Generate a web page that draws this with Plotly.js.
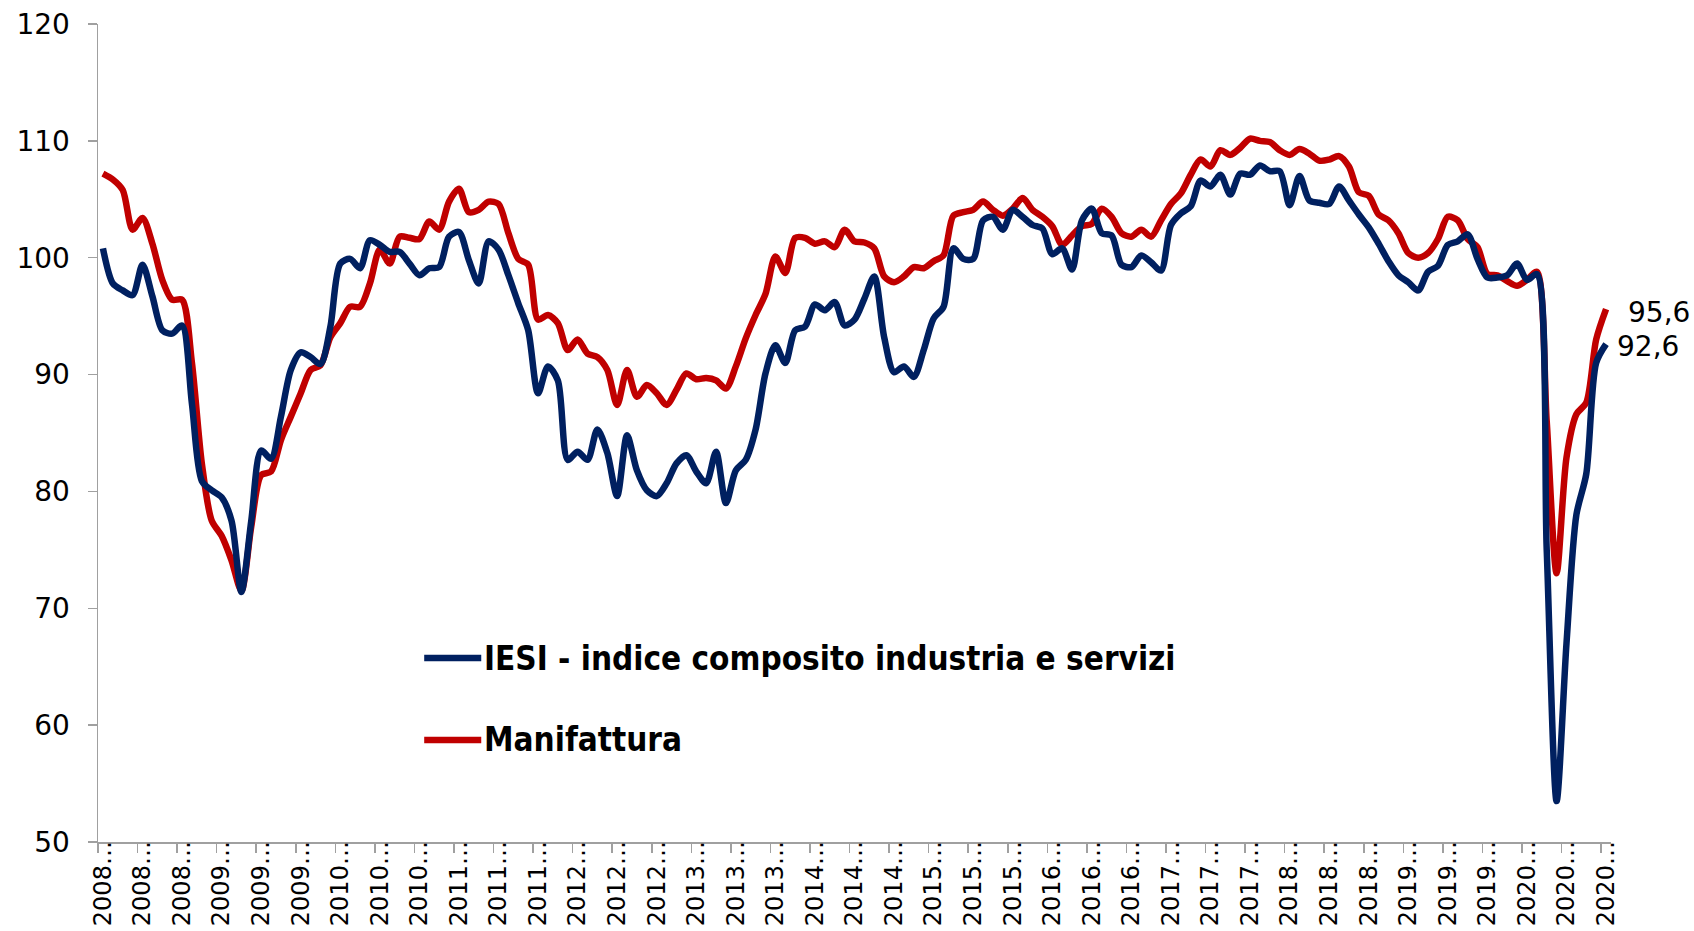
<!DOCTYPE html>
<html>
<head>
<meta charset="utf-8">
<script src="https://cdn.plot.ly/plotly-3.0.1.min.js"></script>
<style>
html,body{margin:0;padding:0;background:#fff;}
#chart{width:1694px;height:931px;}
</style>
</head>
<body>
<div id="chart"></div>
<script>
// Monthly series, one value per month (153 months)
const iesi = [
100.8,97.8,97.2,96.8,99.4,96.7,93.8,93.5,94.2,87.5,80.9,80.1,79.5,77.5,71.4,77.5,83.5,82.8,86.4,90.4,
91.9,91.5,90.9,94.1,99.5,99.9,99.1,101.5,101.1,100.5,100.5,99.5,98.5,99.1,99.2,101.8,102.2,99.8,97.8,101.4,
100.7,98.5,96.1,93.8,88.4,90.7,89.5,82.7,83.4,82.7,85.3,83.3,79.6,84.8,81.8,80.1,79.6,80.7,82.4,83.1,
81.7,80.7,83.4,79.0,81.8,82.7,85.3,90.1,92.5,91.0,93.8,94.1,96.0,95.5,96.2,94.2,94.7,96.5,98.4,93.2,
90.2,90.7,89.8,92.1,94.8,95.8,100.8,99.9,99.9,103.2,103.5,102.4,104.1,103.5,102.8,102.5,100.3,100.8,99.0,103.2,
104.2,102.1,101.9,99.4,99.2,100.2,99.6,98.9,102.8,103.8,104.4,106.6,106.1,107.1,105.4,107.2,107.1,107.9,107.4,107.4,
104.5,107.0,104.9,104.7,104.6,106.1,104.9,103.7,102.6,101.2,99.7,98.5,97.9,97.2,98.8,99.3,101.1,101.4,102.0,99.9,
98.3,98.3,98.5,99.5,98.1,98.6,75.0,53.5,67.0,78.0,81.5,91.0,92.6
];
const manifattura = [
107.2,106.7,105.8,102.4,103.4,101.2,98.1,96.4,96.4,91.0,82.4,77.5,76.2,74.1,71.5,77.0,81.4,81.7,84.4,86.4,
88.4,90.4,90.8,93.2,94.4,95.8,95.8,97.8,100.7,99.5,101.8,101.7,101.6,103.1,102.4,104.8,105.9,103.9,104.1,104.8,
104.6,102.1,99.9,99.4,94.7,95.1,94.4,92.1,93.0,91.8,91.5,90.4,87.4,90.4,88.1,89.1,88.4,87.4,88.7,90.1,
89.6,89.7,89.5,88.8,90.7,93.1,95.1,96.9,100.1,98.7,101.7,101.7,101.2,101.4,100.9,102.4,101.4,101.3,100.8,98.4,
97.9,98.4,99.2,99.1,99.7,100.2,103.6,103.9,104.1,104.8,104.1,103.6,104.2,105.1,104.1,103.5,102.7,101.1,101.9,102.7,
102.9,104.2,103.5,102.1,101.8,102.4,101.8,103.2,104.6,105.5,107.1,108.4,107.8,109.2,108.8,109.4,110.2,110.0,109.9,109.2,
108.8,109.3,108.9,108.3,108.4,108.7,107.8,105.6,105.3,103.7,103.2,102.1,100.4,100.0,100.4,101.6,103.5,103.2,101.6,100.9,
98.6,98.5,98.0,97.6,98.1,98.8,86.0,73.0,82.9,86.6,87.6,93.0,95.6
];
// One label every 4 months
const tickLabels = [
"2008…","2008…","2008…","2009…","2009…","2009…","2010…","2010…","2010…",
"2011…","2011…","2011…","2012…","2012…","2012…","2013…","2013…","2013…",
"2014…","2014…","2014…","2015…","2015…","2015…","2016…","2016…","2016…",
"2017…","2017…","2017…","2018…","2018…","2018…","2019…","2019…","2019…",
"2020…","2020…","2020…"
];
const seriesNames = ["IESI - indice composito industria e servizi", "Manifattura"];
const colors = ["#002060", "#C00000"];

const xIdx = iesi.map((_, i) => i);
const tickVals = tickLabels.map((_, k) => k * 4);

const traces = [
  {x: xIdx, y: manifattura, type: 'scatter', mode: 'lines', name: seriesNames[1],
   line: {color: colors[1], width: 6.5, shape: 'spline', smoothing: 0.8}, showlegend: false},
  {x: xIdx, y: iesi, type: 'scatter', mode: 'lines', name: seriesNames[0],
   line: {color: colors[0], width: 6.5, shape: 'spline', smoothing: 0.8}, showlegend: false}
];

const fmt = v => v.toFixed(1).replace('.', ',');
const lastI = iesi.length - 1;

const legendY = [0.2249, 0.1247];
const shapes = [0, 1].map(k => ({
  type: 'line', xref: 'paper', yref: 'paper',
  x0: 0.2156, x1: 0.2533, y0: legendY[k], y1: legendY[k],
  line: {color: colors[k], width: 6.5}
}));

const legendFont = {family: 'DejaVu Sans Condensed, DejaVu Sans', size: 33, color: '#000'};
const annotations = [
  {xref: 'paper', yref: 'paper', x: 0.2535, y: legendY[0], xanchor: 'left', yanchor: 'middle',
   text: '<b>' + seriesNames[0] + '</b>', showarrow: false, font: legendFont},
  {xref: 'paper', yref: 'paper', x: 0.2535, y: legendY[1], xanchor: 'left', yanchor: 'middle',
   text: '<b>' + seriesNames[1] + '</b>', showarrow: false, font: legendFont},
  {x: lastI, y: manifattura[lastI], xref: 'x', yref: 'y', text: fmt(manifattura[lastI]),
   showarrow: false, xanchor: 'left', yanchor: 'middle', xshift: 20, yshift: -3,
   font: {family: 'DejaVu Sans', size: 28, color: '#000'}},
  {x: lastI, y: iesi[lastI], xref: 'x', yref: 'y', text: fmt(iesi[lastI]),
   showarrow: false, xanchor: 'left', yanchor: 'middle', xshift: 9, yshift: -2,
   font: {family: 'DejaVu Sans', size: 28, color: '#000'}}
];

const layout = {
  width: 1694, height: 931,
  margin: {l: 98, r: 83, t: 24, b: 89, pad: 0},
  paper_bgcolor: '#fff', plot_bgcolor: '#fff',
  showlegend: false,
  font: {family: 'DejaVu Sans', size: 26, color: '#000'},
  xaxis: {
    type: 'linear', range: [-0.5, 152.5], fixedrange: true,
    tickmode: 'array', tickvals: tickVals, ticktext: tickLabels,
    tickangle: -90, ticks: '', showgrid: false, zeroline: false,
    showline: true, linecolor: '#A0A0A0', linewidth: 1.5,
    tickfont: {family: 'DejaVu Sans', size: 24, color: '#000'},
    ticklabelstandoff: -12,
    minor: {tickmode: 'linear', tick0: -0.5, dtick: 4, ticks: 'outside', ticklen: 9,
            tickwidth: 1.5, tickcolor: '#A0A0A0', showgrid: false}
  },
  yaxis: {
    range: [50, 120], dtick: 10, tick0: 50, fixedrange: true,
    ticks: 'outside', ticklen: 9, tickwidth: 1.5, tickcolor: '#A0A0A0',
    showline: true, linecolor: '#A0A0A0', linewidth: 1.5,
    showgrid: false, zeroline: false,
    tickfont: {family: 'DejaVu Sans', size: 28, color: '#000'},
    ticklabelstandoff: 12
  },
  shapes: shapes,
  annotations: annotations
};

Plotly.newPlot('chart', traces, layout, {displayModeBar: false, staticPlot: true});
</script>
</body>
</html>
